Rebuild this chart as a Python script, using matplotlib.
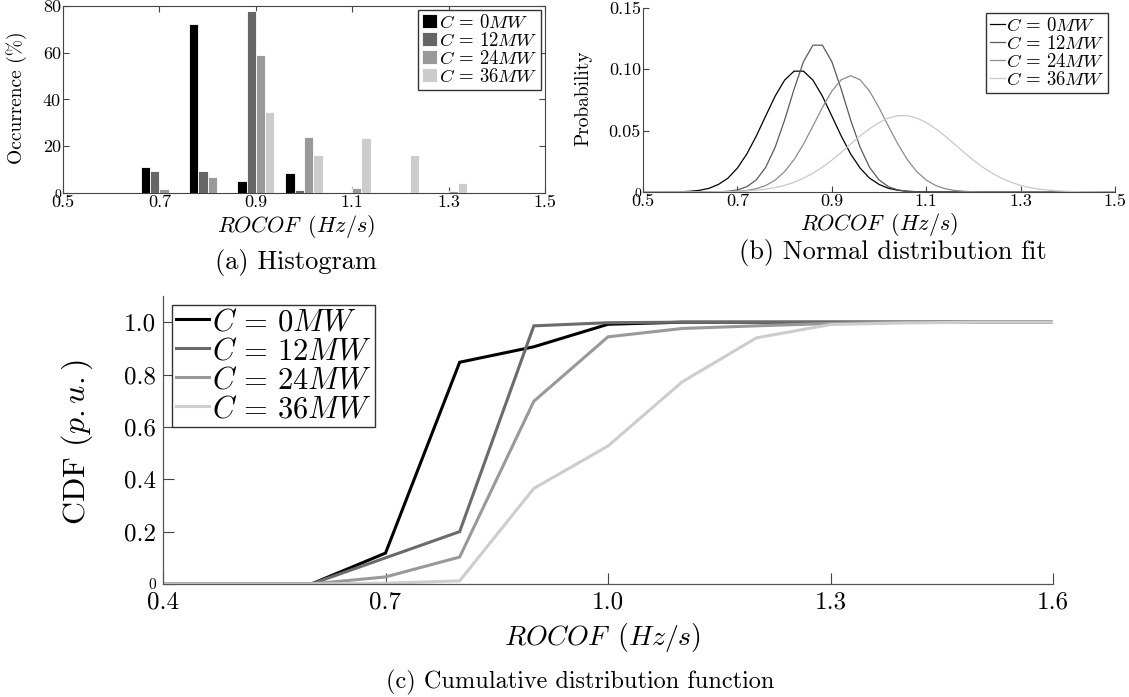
import numpy as np
import matplotlib
matplotlib.use("Agg")
import matplotlib.pyplot as plt

plt.rcParams['mathtext.fontset'] = 'cm'
plt.rcParams['font.family'] = 'serif'
plt.rcParams['font.serif'] = ['cmr10', 'DejaVu Serif']
plt.rcParams['axes.unicode_minus'] = False
plt.rcParams['axes.formatter.use_mathtext'] = True

# ---------------- data ----------------
labels = [r'$C\,=\,0MW$', r'$C\,=\,12MW$', r'$C\,=\,24MW$', r'$C\,=\,36MW$']

# (a) histogram
hist_bins = [0.5, 0.6, 0.7, 0.8, 0.9, 1.0, 1.1, 1.2, 1.3, 1.4, 1.5]
hist_0 = [0, 0, 11.3, 72.2, 5.1, 8.7, 0, 0, 0, 0, 0]
hist_12 = [0, 0, 9.5, 9.4, 77.9, 1.1, 0, 0, 0, 0, 0]
hist_24 = [0, 0, 1.8, 7.0, 59.0, 24.1, 2.3, 0.6, 1.0, 0, 0]
hist_36 = [0, 0, 0, 0.4, 34.7, 16.1, 23.4, 16.3, 4.1, 0.2, 0]

# (b) normal fit, sampled at 0.50, 0.52, ..., 1.50
fit_x = np.round(np.linspace(0.5, 1.5, 51), 2)
fit_0 = [0.0000, 0.0000, 0.0000, 0.0001, 0.0002, 0.0006, 0.0014, 0.0030, 0.0062, 0.0113,
         0.0195, 0.0310, 0.0456, 0.0620, 0.0782, 0.0912, 0.0985, 0.0985, 0.0912, 0.0782,
         0.0620, 0.0456, 0.0310, 0.0195, 0.0113, 0.0062, 0.0030, 0.0014, 0.0006, 0.0002,
         0.0001, 0.0000, 0.0000, 0.0000, 0.0000, 0.0000, 0.0000, 0.0000, 0.0000, 0.0000,
         0.0000, 0.0000, 0.0000, 0.0000, 0.0000, 0.0000, 0.0000, 0.0000, 0.0000, 0.0000,
         0.0000]
fit_12 = [0.0000, 0.0000, 0.0000, 0.0000, 0.0000, 0.0000, 0.0000, 0.0001, 0.0002, 0.0006,
          0.0017, 0.0043, 0.0099, 0.0201, 0.0365, 0.0586, 0.0837, 0.1063, 0.1197, 0.1197,
          0.1063, 0.0837, 0.0586, 0.0365, 0.0201, 0.0099, 0.0043, 0.0017, 0.0006, 0.0002,
          0.0001, 0.0000, 0.0000, 0.0000, 0.0000, 0.0000, 0.0000, 0.0000, 0.0000, 0.0000,
          0.0000, 0.0000, 0.0000, 0.0000, 0.0000, 0.0000, 0.0000, 0.0000, 0.0000, 0.0000,
          0.0000]
fit_24 = [0.0000, 0.0000, 0.0000, 0.0000, 0.0000, 0.0000, 0.0000, 0.0000, 0.0001, 0.0002,
          0.0006, 0.0013, 0.0027, 0.0053, 0.0097, 0.0166, 0.0264, 0.0390, 0.0537, 0.0688,
          0.0822, 0.0915, 0.0948, 0.0915, 0.0822, 0.0688, 0.0537, 0.0390, 0.0264, 0.0166,
          0.0097, 0.0053, 0.0027, 0.0013, 0.0006, 0.0002, 0.0001, 0.0000, 0.0000, 0.0000,
          0.0000, 0.0000, 0.0000, 0.0000, 0.0000, 0.0000, 0.0000, 0.0000, 0.0000, 0.0000,
          0.0000]
fit_36 = [0.0000, 0.0000, 0.0000, 0.0000, 0.0000, 0.0000, 0.0000, 0.0001, 0.0002, 0.0003,
          0.0005, 0.0009, 0.0015, 0.0023, 0.0036, 0.0054, 0.0079, 0.0112, 0.0153, 0.0202,
          0.0259, 0.0323, 0.0391, 0.0456, 0.0516, 0.0566, 0.0603, 0.0622, 0.0622, 0.0603,
          0.0566, 0.0516, 0.0456, 0.0391, 0.0323, 0.0259, 0.0202, 0.0153, 0.0112, 0.0079,
          0.0054, 0.0036, 0.0023, 0.0015, 0.0009, 0.0005, 0.0003, 0.0002, 0.0001, 0.0000,
          0.0000]

# (c) CDF
cdf_x = [0.4, 0.5, 0.6, 0.7, 0.8, 0.9, 1.0, 1.1, 1.2, 1.3, 1.4, 1.5, 1.6]
cdf_0 = [0, 0, 0, 0.118, 0.847, 0.906, 0.992, 1, 1, 1, 1, 1, 1]
cdf_12 = [0, 0, 0, 0.100, 0.200, 0.986, 0.998, 1, 1, 1, 1, 1, 1]
cdf_24 = [0, 0, 0, 0.027, 0.103, 0.698, 0.944, 0.976, 0.986, 0.995, 1, 1, 1]
cdf_36 = [0, 0, 0, 0.003, 0.012, 0.365, 0.527, 0.772, 0.940, 0.991, 0.997, 1, 1]

ab_xticks = [0.5, 0.7, 0.9, 1.1, 1.3, 1.5]
a_yticks = [0, 20, 40, 60, 80]
b_yticks = [0, 0.05, 0.10, 0.15]
c_xticks = [0.4, 0.7, 1.0, 1.3, 1.6]
c_yticks = [0, 0.2, 0.4, 0.6, 0.8, 1.0]

# ---------------- figure ----------------
W, H = 1129, 697
fig = plt.figure(figsize=(W / 100, H / 100), dpi=100)

def fx(px):
    return px / W

def fy(py):
    return 1 - py / H

spine_c = '#444444'
bar_cols = ['#000000', '#666666', '#999999', '#cccccc']
fit_cols = ['#000000', '#5a5a5a', '#8c8c8c', '#c8c8c8']
cdf_cols = ['#000000', '#6b6b6b', '#999999', '#cdcdcd']

# ---- (a) histogram ----
axa = fig.add_axes([fx(63), fy(193), fx(545 - 63), (193 - 6) / H])
w = 0.0192
bins = np.array(hist_bins)
for i, (vals, col, lab) in enumerate(zip([hist_0, hist_12, hist_24, hist_36], bar_cols, labels)):
    axa.bar(bins + (i - 1.5) * w, vals, width=w, color=col, edgecolor='white',
            linewidth=0.6, label=lab, zorder=3)
axa.set_xlim(0.5, 1.5)
axa.set_ylim(0, 80)
axa.set_xticks(ab_xticks)
axa.set_xticklabels([f'{t:.1f}' for t in ab_xticks], fontsize=13)
axa.set_yticks(a_yticks)
axa.set_yticklabels([str(t) for t in a_yticks], fontsize=13)
axa.get_yticklabels()[0].set_fontsize(10)
axa.tick_params(direction='in', top=True, right=True, length=4, width=0.8,
                color=spine_c, pad=1.5)
for s in axa.spines.values():
    s.set_color(spine_c)
    s.set_linewidth(0.8)
axa.legend(loc='upper right', bbox_to_anchor=(fx(541), fy(10)), bbox_transform=fig.transFigure,
           fontsize=13.5, handlelength=0.8, handleheight=0.8, handletextpad=0.1,
           labelspacing=0.0, borderpad=0.2, borderaxespad=0, fancybox=False,
           edgecolor='#333333', framealpha=1)
fig.text(fx(17), fy(98), 'Occurrence (%)', rotation=90, ha='center', va='center', fontsize=14)
fig.text(fx(296), fy(226), r'$ROCOF\ \,(Hz/s)$', ha='center', va='center', fontsize=16)
fig.text(fx(296), fy(262), '(a) Histogram', ha='center', va='center', fontsize=19)

# ---- (b) normal distribution fit ----
axb = fig.add_axes([fx(643), fy(192), fx(1115 - 643), (192 - 8) / H])
for vals, col, lab in zip([fit_0, fit_12, fit_24, fit_36], fit_cols, labels):
    axb.plot(fit_x, vals, color=col, linewidth=0.9, label=lab)
axb.set_xlim(0.5, 1.5)
axb.set_ylim(0, 0.15)
axb.set_xticks(ab_xticks)
axb.set_xticklabels([f'{t:.1f}' for t in ab_xticks], fontsize=13)
axb.set_yticks(b_yticks)
axb.set_yticklabels(['0', '0.05', '0.10', '0.15'], fontsize=13)
axb.get_yticklabels()[0].set_fontsize(10)
axb.spines['top'].set_visible(False)
axb.spines['right'].set_visible(False)
for s in ['left', 'bottom']:
    axb.spines[s].set_color(spine_c)
    axb.spines[s].set_linewidth(0.8)
axb.tick_params(direction='in', length=4, width=0.8, color=spine_c, pad=1.5)
axb.legend(loc='upper right', bbox_to_anchor=(fx(1108), fy(13)), bbox_transform=fig.transFigure,
           fontsize=13.5, handlelength=0.8, handletextpad=0.05, labelspacing=0.0,
           borderpad=0.2, borderaxespad=0, fancybox=False, edgecolor='#333333',
           framealpha=1)
fig.text(fx(583), fy(98), 'Probability', rotation=90, ha='center', va='center', fontsize=14)
fig.text(fx(879), fy(225), r'$ROCOF\ \,(Hz/s)$', ha='center', va='center', fontsize=16)
fig.text(fx(893), fy(252), '(b) Normal distribution fit', ha='center', va='center', fontsize=19)

# ---- (c) CDF ----
axc = fig.add_axes([fx(163), fy(584), fx(1053 - 163), (584 - 296) / H])
for vals, col, lab in zip([cdf_0, cdf_12, cdf_24, cdf_36], cdf_cols, labels):
    axc.plot(cdf_x, vals, color=col, linewidth=2.2, label=lab, solid_joinstyle='miter')
axc.set_xlim(0.4, 1.6)
axc.set_ylim(0, 1.1)
axc.set_xticks(c_xticks)
axc.set_xticklabels([f'{t:.1f}' for t in c_xticks], fontsize=18)
axc.set_yticks(c_yticks)
axc.set_yticklabels(['0', '0.2', '0.4', '0.6', '0.8', '1.0'], fontsize=18)
axc.get_yticklabels()[0].set_fontsize(11)
axc.spines['top'].set_visible(False)
axc.spines['right'].set_visible(False)
for s in ['left', 'bottom']:
    axc.spines[s].set_color('#555555')
    axc.spines[s].set_linewidth(0.9)
axc.tick_params(direction='in', length=8, width=0.8, color='#444444', pad=5)
axc.legend(loc='upper left', bbox_to_anchor=(fx(172), fy(305)), bbox_transform=fig.transFigure,
           fontsize=22, handlelength=1.1, handletextpad=0.1, labelspacing=0.05,
           borderpad=0.12, borderaxespad=0, fancybox=False, edgecolor='#333333',
           framealpha=1)
fig.text(fx(77), fy(442), r'CDF $(p.u.)$', rotation=90, ha='center', va='center', fontsize=23)
fig.text(fx(603), fy(638), r'$ROCOF\ \,(Hz/s)$', ha='center', va='center', fontsize=20)
fig.text(fx(580), fy(682), '(c) Cumulative distribution function', ha='center', va='center',
         fontsize=17.5)

fig.savefig('out.png', dpi=100)
